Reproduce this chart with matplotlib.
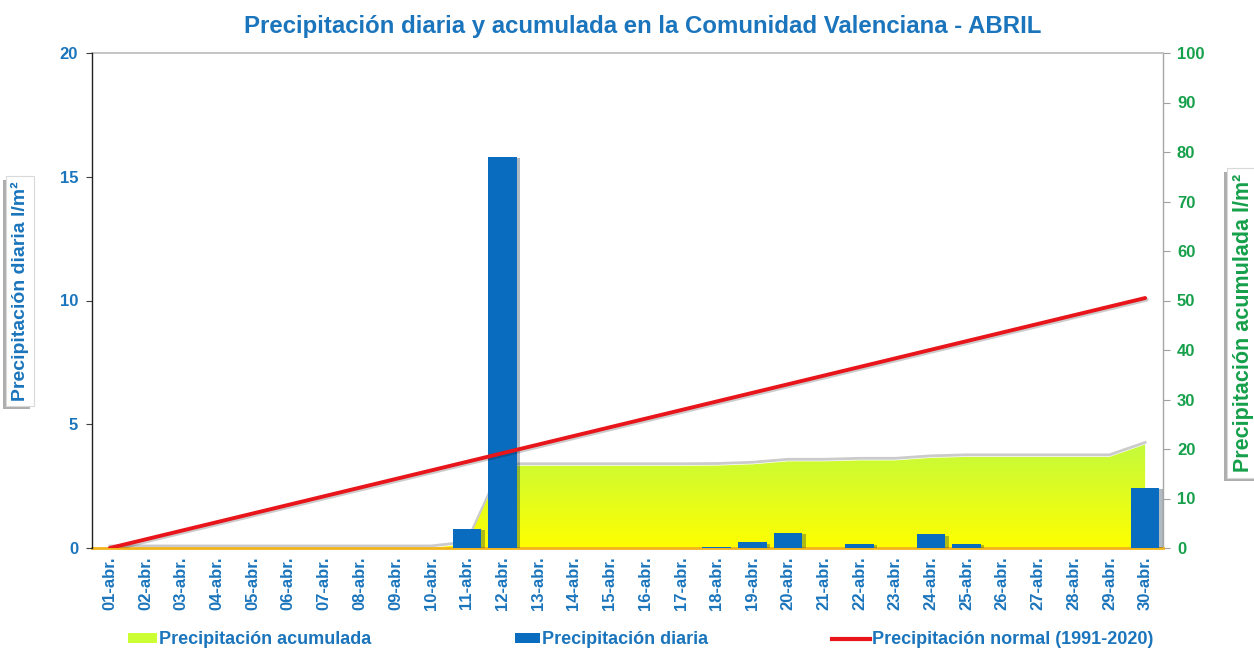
import numpy as np
import matplotlib
matplotlib.use('Agg')
import matplotlib.pyplot as plt
import matplotlib.patheffects as pe
from matplotlib.colors import LinearSegmentedColormap
from matplotlib.patches import Patch
from matplotlib.lines import Line2D
import matplotlib.transforms as mtransforms

plt.rcParams['font.family'] = ['Liberation Sans', 'DejaVu Sans']
plt.rcParams['font.weight'] = 'bold'

# --- Data ---
dias = ['%02d-abr.' % d for d in range(1, 31)]

# precipitacion diaria (l/m2)
diaria = [0, 0, 0, 0, 0, 0, 0, 0, 0, 0,
          0.78, 15.8, 0, 0, 0, 0, 0, 0.05, 0.23, 0.62,
          0, 0.16, 0, 0.55, 0.16, 0, 0, 0, 0, 2.44]

# precipitacion acumulada (l/m2)
acumulada = [0, 0, 0, 0, 0, 0, 0, 0, 0, 0,
             0.8, 16.6, 16.6, 16.6, 16.6, 16.6, 16.6, 16.65, 16.9, 17.5,
             17.5, 17.7, 17.7, 18.2, 18.4, 18.4, 18.4, 18.4, 18.4, 20.9]

# precipitacion normal 1991-2020 (recta entre el dia 1 y el 30)
normal_dias = ['01-abr.', '30-abr.']
normal = [0, 50.5]

izq_ticks = [0, 5, 10, 15, 20]
der_ticks = [0, 10, 20, 30, 40, 50, 60, 70, 80, 90, 100]

# --- Colores ---
azul_txt = '#1B75BC'
verde_txt = '#16A04B'
azul_barra = '#0A6CBE'
rojo = '#E8151B'

x = np.arange(len(dias))
x_normal = [dias.index(d) for d in normal_dias]

fig = plt.figure(figsize=(12.54, 6.5), dpi=100)
rect = [92 / 1254, 1 - 548 / 650, (1163 - 92) / 1254, (548 - 53) / 650]

# eje del area (escala derecha)
ax_area = fig.add_axes(rect)
# eje de barras (escala izquierda)
ax_bar = fig.add_axes(rect, sharex=ax_area)
# eje de la linea normal (escala derecha, por encima)
ax_line = fig.add_axes(rect, sharex=ax_area, sharey=ax_area)

ax_area.set_zorder(1)
ax_bar.set_zorder(2)
ax_line.set_zorder(3)
ax_bar.patch.set_visible(False)
ax_line.patch.set_visible(False)

# area con degradado
top = max(acumulada)
off = mtransforms.offset_copy(ax_area.transData, fig=fig, x=0, y=1.5, units='points')
ax_area.plot(x, acumulada, color='#8c8c8c', lw=2, alpha=0.45, transform=off, zorder=1)
poly = ax_area.fill_between(x, 0, acumulada, color='none', zorder=2)
cmap = LinearSegmentedColormap.from_list('acu', ['#FFFF00', '#C4FA3C'])
grad = np.linspace(0, 1, 256).reshape(-1, 1)
im = ax_area.imshow(grad, cmap=cmap, origin='lower', aspect='auto',
                    extent=[x[0], x[-1], 0, top], zorder=2)
im.set_clip_path(poly.get_paths()[0], transform=ax_area.transData)
ax_area.set_xlim(-0.5, len(dias) - 0.5)
ax_area.set_ylim(0, 100)
ax_bar.set_ylim(0, 20)

# barras diarias
bars = ax_bar.bar(x, diaria, width=0.8, color=azul_barra, zorder=3)
for b in bars:
    b.set_path_effects([pe.SimplePatchShadow(offset=(2.5, -1), alpha=0.3), pe.Normal()])

# linea normal
ax_line.plot(x_normal, normal, color=rojo, lw=2.8, solid_capstyle='round',
             path_effects=[pe.SimpleLineShadow(offset=(1.2, -1.2), alpha=0.2), pe.Normal()])

# ejes y ticks
ax_area.yaxis.tick_right()
ax_area.set_yticks(der_ticks)
ax_area.set_xticks(x)
ax_area.set_xticklabels(dias, rotation=90, fontsize=12, color=azul_txt, fontweight='bold')
ax_area.tick_params(axis='x', length=0, pad=6)
ax_area.tick_params(axis='y', colors='#a0a0a0', labelcolor=verde_txt, labelsize=12,
                    length=5, pad=5)
for lab in ax_area.get_yticklabels():
    lab.set_fontweight('bold')

ax_bar.set_yticks(izq_ticks)
ax_bar.tick_params(axis='y', colors='#404040', labelcolor=azul_txt, labelsize=12,
                   length=4, pad=6)
for lab in ax_bar.get_yticklabels():
    lab.set_fontweight('bold')
ax_bar.tick_params(axis='x', bottom=False, labelbottom=False)

ax_line.axis('off')

for s in ax_bar.spines.values():
    s.set_visible(False)
ax_bar.spines['left'].set_visible(True)
ax_bar.spines['left'].set_color('#202020')
ax_bar.spines['left'].set_linewidth(1)

ax_area.spines['left'].set_visible(False)
ax_area.spines['top'].set_color('#bfbfbf')
ax_area.spines['top'].set_linewidth(1.3)
ax_area.spines['right'].set_color('#a6a6a6')
ax_area.spines['right'].set_linewidth(1)
ax_area.spines['bottom'].set_color('#F2B31B')
ax_area.spines['bottom'].set_linewidth(2)
ax_area.spines['bottom'].set_zorder(5)

# titulo
fig.text(643 / 1254, 1 - 26 / 650, 'Precipitación diaria y acumulada en la Comunidad Valenciana - ABRIL',
         ha='center', va='center', fontsize=17.3, color=azul_txt, fontweight='bold')

# etiquetas de los ejes con caja
caja = dict(boxstyle='square,pad=0.25', facecolor='white', edgecolor='#d9d9d9', lw=0.8)
t1 = fig.text(20 / 1254, 1 - 291 / 650, 'Precipitación diaria l/m²', rotation=90,
              ha='center', va='center', fontsize=14, color=azul_txt, fontweight='bold', bbox=caja)
t2 = fig.text(1243 / 1254, 1 - 323 / 650, 'Precipitación acumulada l/m²', rotation=90,
              ha='center', va='center', fontsize=15.5, color=verde_txt, fontweight='bold', bbox=caja)
fig.canvas.draw()
for t in (t1, t2):
    t.get_bbox_patch().set_path_effects([pe.SimplePatchShadow(offset=(-2.5, -2.5), alpha=0.45), pe.Normal()])

# leyenda (tres entradas separadas)
entradas = [
    (Patch(facecolor='#CCFF33'), 'Precipitación acumulada', 128, 1.6),
    (Patch(facecolor=azul_barra), 'Precipitación diaria', 515, 1.4),
    (Line2D([], [], color=rojo, lw=3), 'Precipitación normal (1991-2020)', 832, 2.1),
]
for h, txt, px, hl in entradas:
    fig.legend([h], [txt], loc='center left', bbox_to_anchor=(px / 1254, 1 - 640 / 650),
               frameon=False, handlelength=hl, handleheight=0.5, handletextpad=0.1,
               borderaxespad=0, borderpad=0,
               prop={'size': 13, 'weight': 'bold'}, labelcolor=azul_txt)

fig.savefig('out.png', dpi=100)
